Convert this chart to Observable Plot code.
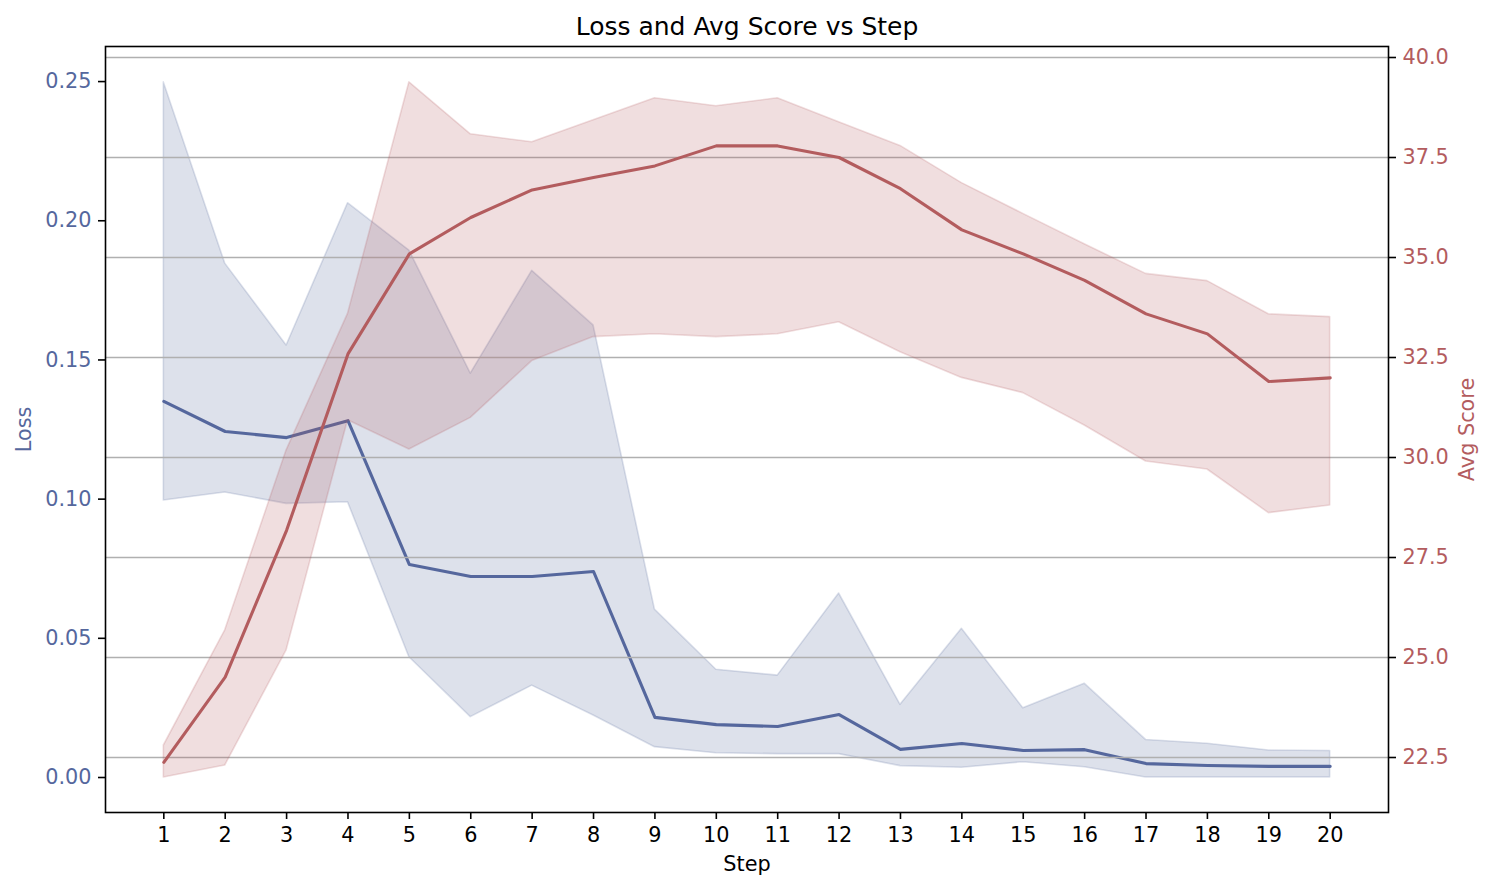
<!DOCTYPE html>
<html><head><meta charset="utf-8">
<script src="https://cdn.jsdelivr.net/npm/d3@7"></script>
<script src="https://cdn.jsdelivr.net/npm/@observablehq/plot@0.6"></script>
<style>
body{margin:0;background:#fff}
#c{position:relative;width:1494px;height:891px}
#c svg{position:absolute;left:0;top:0;max-width:none}
</style>
</head><body><div id="c"></div>
<script>
const steps = [1,2,3,4,5,6,7,8,9,10,11,12,13,14,15,16,17,18,19,20];
const lossMean  = [0.1351,0.1243,0.1221,0.1282,0.0765,0.0722,0.0722,0.0740,0.0216,0.0190,0.0183,0.0226,0.0101,0.0122,0.0097,0.0100,0.0050,0.0043,0.0040,0.0040];
const lossUpper = [0.2497,0.1846,0.1552,0.2063,0.1893,0.1451,0.1820,0.1624,0.0603,0.0387,0.0366,0.0661,0.0261,0.0534,0.0249,0.0337,0.0135,0.0121,0.0097,0.0095];
const lossLower = [0.0995,0.1024,0.0983,0.0989,0.0432,0.0217,0.0330,0.0223,0.0109,0.0087,0.0084,0.0084,0.0041,0.0035,0.0055,0.0037,0.0000,0.0000,0.0000,0.0000];
const scoreMean  = [22.38,24.51,28.18,32.59,35.09,36.00,36.69,37.00,37.29,37.79,37.79,37.50,36.72,35.69,35.09,34.43,33.59,33.09,31.90,31.99];
const scoreUpper = [22.80,25.68,30.18,33.59,39.38,38.08,37.88,38.43,38.98,38.78,38.98,38.38,37.79,36.86,36.09,35.33,34.59,34.41,33.58,33.51];
const scoreLower = [22.00,22.30,25.18,30.93,30.20,30.99,32.41,33.01,33.08,33.01,33.08,33.38,32.63,31.99,31.61,30.80,29.90,29.70,28.61,28.80];
const lossTicks = [0,0.05,0.10,0.15,0.20,0.25];
const scoreTicks = [22.5,25.0,27.5,30.0,32.5,35.0,37.5,40.0];

const BLUE = "#55679d", RED = "#b35c5e";
const FONT = "DejaVu Sans, Liberation Sans, sans-serif";
const lossData = steps.map((s,i)=>({step:s, mean:lossMean[i], lo:lossLower[i], hi:lossUpper[i]}));
const scoreData = steps.map((s,i)=>({step:s, mean:scoreMean[i], lo:scoreLower[i], hi:scoreUpper[i]}));

const common = {
  width: 1494, height: 891,
  marginLeft: 105, marginRight: 106, marginTop: 46, marginBottom: 79,
  style: {fontFamily: FONT, fontSize: "20.8px", background: "transparent", overflow: "visible"}
};

const lossPlot = Plot.plot({
  ...common,
  x: {domain: [0.05, 20.95]},
  y: {domain: [-0.01257, 0.2626]},
  marks: [
    Plot.areaY(lossData, {x:"step", y1:"lo", y2:"hi", fill:BLUE, fillOpacity:0.2, stroke:BLUE, strokeOpacity:0.2, strokeWidth:1.6}),
    Plot.lineY(lossData, {x:"step", y:"mean", stroke:BLUE, strokeWidth:3.1}),
    Plot.axisY(lossTicks, {anchor:"left", tickSize:7, tickPadding:7, stroke:"black", strokeWidth:1.6, color:BLUE, tickFormat:d3.format(".2f"), label:null, fontSize:20.8}),
    Plot.axisX(steps, {anchor:"bottom", tickSize:7, tickPadding:8, stroke:"black", strokeWidth:1.6, color:"black", tickFormat:d=>String(d), label:null, fontSize:20.8}),
    Plot.text(["Loss"], {frameAnchor:"left", dx:-81, rotate:-90, fill:BLUE, fontSize:20.8, textAnchor:"middle", lineAnchor:"middle"}),
    Plot.text(["Step"], {frameAnchor:"bottom", dy:52, fill:"black", fontSize:20.8, textAnchor:"middle", lineAnchor:"middle"})
  ]
});

const scorePlot = Plot.plot({
  ...common,
  x: {domain: [0.05, 20.95], axis: null},
  y: {domain: [21.125, 40.275], axis: null},
  marks: [
    Plot.ruleY(scoreTicks, {stroke:"#b0b0b0", strokeWidth:1.7}),
    Plot.areaY(scoreData, {x:"step", y1:"lo", y2:"hi", fill:RED, fillOpacity:0.2, stroke:RED, strokeOpacity:0.2, strokeWidth:1.6}),
    Plot.lineY(scoreData, {x:"step", y:"mean", stroke:RED, strokeWidth:3.1}),
    Plot.axisY(scoreTicks, {anchor:"right", tickSize:7, tickPadding:7, stroke:"black", strokeWidth:1.6, color:RED, tickFormat:d3.format(".1f"), label:null, fontSize:20.8}),
    Plot.text(["Avg Score"], {frameAnchor:"right", dx:79, rotate:-90, fill:RED, fontSize:20.8, textAnchor:"middle", lineAnchor:"middle"}),
    Plot.text(["Loss and Avg Score vs Step"], {frameAnchor:"top", dy:-20, fill:"black", fontSize:25, textAnchor:"middle", lineAnchor:"middle"}),
    Plot.frame({stroke:"black", strokeWidth:1.6})
  ]
});

const container = document.getElementById("c");
container.appendChild(lossPlot);
container.appendChild(scorePlot);
</script>
</body></html>
